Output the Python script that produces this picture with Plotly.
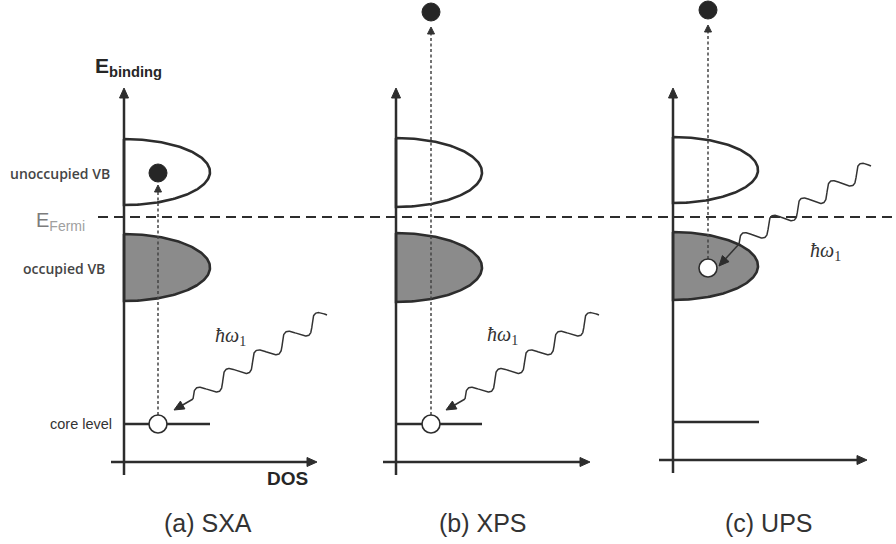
import numpy as np
import plotly.graph_objects as go

# ---- Canvas coordinates (pixels, y grows downward) ----
W, H = 896, 544

# ---- Panels ----
PANEL_CAPTIONS = ["(a) SXA", "(b) XPS", "(c) UPS"]
CAPTION_X = [162, 437, 723]
CAPTION_Y = 523

# Energy axis (DOS = 0) and DOS axis for each panel
AXIS_X = [124, 396, 673]
AXIS_TOP = [88, 88, 88]
AXIS_BOTTOM = [475, 475, 473]
DOS_AXIS_Y = [462, 462, 460]
DOS_AXIS_LEFT = [111, 383, 659]
DOS_AXIS_RIGHT = [317, 590, 867]

# Fermi level
E_FERMI = 217
FERMI_X = [98, 896]

# Band positions (energy) and DOS extents
UNOCC_VB_TOP = [139, 138, 137]
UNOCC_VB_BOTTOM = [205, 207, 203]
OCC_VB_TOP = [234, 233, 232]
OCC_VB_BOTTOM = [301, 302, 300]
VB_DOS_MAX = [86, 86, 85]
CORE_LEVEL = [424, 424, 422]
CORE_DOS = [86, 86, 86]

# Electron transitions: x position, hole energy, final electron position
TRANS_X = [158, 431, 708]
HOLE_Y = [424, 424, 268]
ELECTRON_Y = [173, 12, 10]
TRANS_TIP_Y = [185, 27, 25]

# Incoming photon: arrow tip, wavy section start and end, label position
PHOTON_TIP_X = [174, 446, 719]
PHOTON_TIP_Y = [410, 410, 266]
WAVE_START_X = [193, 465, 739]
WAVE_START_Y = [399, 399, 244]
WAVE_END_X = [327, 599, 871]
WAVE_END_Y = [315, 315, 166]
WAVE_PERIODS = 4.5
WAVE_AMP = 7.5
PHOTON_LABEL_X = [213, 485, 808]
PHOTON_LABEL_Y = [336, 335, 251]

INK = "#2d2d2d"
FILL = "#8b8b8b"
SANS = "Liberation Sans, Arial, sans-serif"
SERIF = "Liberation Serif, Times New Roman, serif"

fig = go.Figure()


def add_line(xs, ys, width=2.5, color=INK, dash=None):
    fig.add_trace(go.Scatter(
        x=list(xs), y=list(ys), mode="lines",
        line=dict(color=color, width=width, dash=dash),
        hoverinfo="skip", showlegend=False))


def add_head(tip, direction, length, half_width, color=INK):
    d = np.asarray(direction, float)
    d = d / np.hypot(*d)
    n = np.array([-d[1], d[0]])
    t = np.asarray(tip, float)
    base = t - length * d
    pts = np.array([t, base + half_width * n, base - half_width * n, t])
    fig.add_trace(go.Scatter(
        x=pts[:, 0], y=pts[:, 1], mode="lines", fill="toself",
        fillcolor=color, line=dict(color=color, width=1),
        hoverinfo="skip", showlegend=False))


def add_band(x0, top, bottom, width, fillcolor):
    t = np.linspace(-np.pi / 2, np.pi / 2, 120)
    yc = (top + bottom) / 2
    h = (bottom - top) / 2
    xs = x0 + width * np.cos(t)
    ys = yc + h * np.sin(t)
    xs = np.concatenate([xs, [x0]])
    ys = np.concatenate([ys, [top]])
    fig.add_trace(go.Scatter(
        x=xs, y=ys, mode="lines",
        fill="toself" if fillcolor else None,
        fillcolor=fillcolor,
        line=dict(color=INK, width=2.6),
        hoverinfo="skip", showlegend=False))


# Bands (drawn first so transitions sit on top)
for i in range(3):
    add_band(AXIS_X[i], OCC_VB_TOP[i], OCC_VB_BOTTOM[i], VB_DOS_MAX[i], FILL)
    add_band(AXIS_X[i], UNOCC_VB_TOP[i], UNOCC_VB_BOTTOM[i], VB_DOS_MAX[i], None)

# Fermi level
add_line(FERMI_X, [E_FERMI, E_FERMI], width=2, dash="10px,6px")

for i in range(3):
    x0 = AXIS_X[i]
    # energy axis
    add_line([x0, x0], [AXIS_BOTTOM[i], AXIS_TOP[i] + 8], width=2.5)
    add_head((x0, AXIS_TOP[i]), (0, -1), 10, 4.5)
    # DOS axis
    add_line([DOS_AXIS_LEFT[i], DOS_AXIS_RIGHT[i] - 8], [DOS_AXIS_Y[i]] * 2, width=2.5)
    add_head((DOS_AXIS_RIGHT[i], DOS_AXIS_Y[i]), (1, 0), 10, 4.5)
    # core level
    add_line([x0, x0 + CORE_DOS[i]], [CORE_LEVEL[i]] * 2, width=2.6)

# Transitions: dotted arrow from hole to final electron state
for i in range(3):
    add_line([TRANS_X[i], TRANS_X[i]], [HOLE_Y[i] - 9, TRANS_TIP_Y[i] + 5],
             width=1.5, color="#444444", dash="3px,2.5px")
    add_head((TRANS_X[i], TRANS_TIP_Y[i]), (0, -1), 7, 3.5, color="#333333")

# Photons
for i in range(3):
    p0 = np.array([WAVE_START_X[i], WAVE_START_Y[i]], float)
    p1 = np.array([WAVE_END_X[i], WAVE_END_Y[i]], float)
    d = p1 - p0
    u = d / np.hypot(*d)
    perp = np.array([u[1], -u[0]])
    s = np.linspace(0, 1, 400)
    pts = p0 + np.outer(s, d) + np.outer(WAVE_AMP * np.sin(2 * np.pi * WAVE_PERIODS * s), perp)
    tip = np.array([PHOTON_TIP_X[i], PHOTON_TIP_Y[i]], float)
    add_line(pts[:, 0], pts[:, 1], width=1.5, color="#333333")
    dir_tip = tip - p0
    base = tip - 8 * dir_tip / np.hypot(*dir_tip)
    add_line([p0[0], base[0]], [p0[1], base[1]], width=1.5, color="#333333")
    add_head(tip, dir_tip, 10, 4.5)

# Electrons (filled) and holes (open)
fig.add_trace(go.Scatter(
    x=TRANS_X, y=ELECTRON_Y, mode="markers",
    marker=dict(size=18, color="#262626", line=dict(color="#262626", width=1)),
    hoverinfo="skip", showlegend=False))
fig.add_trace(go.Scatter(
    x=TRANS_X, y=HOLE_Y, mode="markers",
    marker=dict(size=18, color="white", line=dict(color=INK, width=1.6)),
    hoverinfo="skip", showlegend=False))

annotations = []


def label(x, y, text, size, xanchor="left", color="#3a3a3a", family=SANS,
          yanchor="middle", weight="normal"):
    annotations.append(dict(
        x=x, y=y, xref="x", yref="y", text=text, showarrow=False,
        xanchor=xanchor, yanchor=yanchor,
        font=dict(family=family, size=size, color=color, weight=weight)))


label(93, 67, "E<sub>binding</sub>", 21, color="#262626", weight="bold")
label(112, 173, "unoccupied VB", 14, xanchor="right", color="#454545",
      family="Open Sans, sans-serif", weight=600)
label(107, 268, "occupied VB", 14, xanchor="right", color="#454545",
      family="Open Sans, sans-serif", weight=600)
label(114, 424, "core level", 14.5, xanchor="right", color="#333333")
label(34, 221, 'E<sub><span style="color:#a0a0a0">Fermi</span></sub>', 20,
      color="#7c7c7c")
label(265, 478, "DOS", 19, color="#262626", weight="bold")

for i in range(3):
    label(PHOTON_LABEL_X[i], PHOTON_LABEL_Y[i], "<i>ħω</i><sub>1</sub>", 20,
          family=SERIF, color="#333333")
    label(CAPTION_X[i], CAPTION_Y, PANEL_CAPTIONS[i], 25, color="#333333")

fig.update_layout(
    width=W, height=H,
    margin=dict(l=0, r=0, t=0, b=0),
    paper_bgcolor="white", plot_bgcolor="white",
    showlegend=False,
    annotations=annotations,
    xaxis=dict(range=[0, W], visible=False, fixedrange=True),
    yaxis=dict(range=[H, 0], visible=False, fixedrange=True),
)

fig.write_html("out.html")
